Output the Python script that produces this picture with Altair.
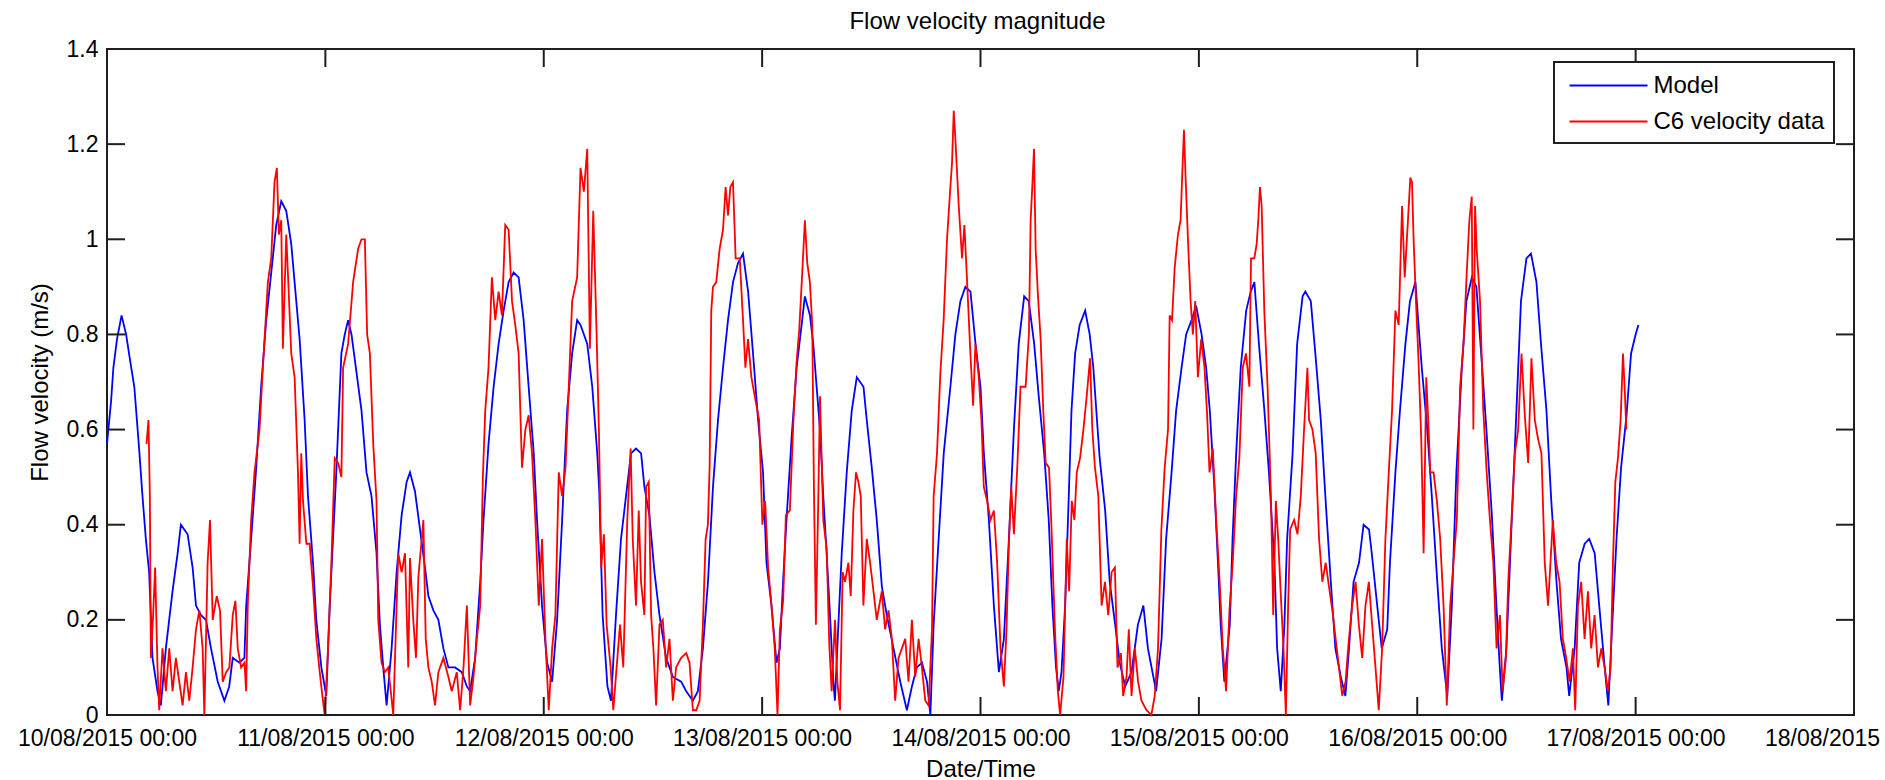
import altair as alt
import pandas as pd

# ---------------- data (hours after 10/08/2015 00:00, m/s) -------------
MODEL = [
    (0.0, 0.57), (0.45, 0.66), (0.7, 0.73), (1.1, 0.79), (1.6, 0.84), (2.1, 0.80), (2.5, 0.75),
    (3.0, 0.69), (3.53, 0.56), (3.9, 0.46), (4.27, 0.37), (4.63, 0.30), (5.0, 0.12), (5.55, 0.05),
    (5.92, 0.02), (6.47, 0.14), (7.2, 0.26), (7.76, 0.34), (8.12, 0.40), (8.86, 0.38), (9.41, 0.31),
    (9.78, 0.23), (10.33, 0.21), (10.88, 0.20), (11.43, 0.14), (12.17, 0.07), (12.9, 0.03),
    (13.43, 0.06), (13.82, 0.12), (14.55, 0.11), (15.1, 0.12), (15.3, 0.23), (15.84, 0.37),
    (16.4, 0.52), (16.94, 0.69), (17.5, 0.83), (18.05, 0.93), (18.6, 1.03), (19.15, 1.08),
    (19.7, 1.06), (20.25, 0.99), (20.8, 0.87), (21.17, 0.79), (21.72, 0.62), (22.09, 0.46),
    (22.64, 0.32), (23.0, 0.20), (23.56, 0.10), (24.1, 0.04), (24.48, 0.23), (25.2, 0.51),
    (25.76, 0.76), (26.13, 0.80), (26.5, 0.83), (26.87, 0.80), (27.42, 0.72), (27.97, 0.64),
    (28.52, 0.51), (29.07, 0.46), (29.62, 0.34), (29.99, 0.19), (30.36, 0.10), (30.73, 0.02),
    (31.28, 0.14), (31.83, 0.30), (32.38, 0.42), (32.93, 0.49), (33.3, 0.51), (33.85, 0.47),
    (34.4, 0.39), (34.95, 0.31), (35.32, 0.25), (35.87, 0.22), (36.42, 0.20), (36.97, 0.14),
    (37.52, 0.10), (38.26, 0.10), (38.99, 0.09), (39.55, 0.06), (39.91, 0.05), (40.46, 0.12),
    (41.02, 0.28), (41.38, 0.41), (41.93, 0.57), (42.49, 0.69), (43.04, 0.78), (43.59, 0.85),
    (44.14, 0.91), (44.69, 0.93), (45.24, 0.92), (45.79, 0.83), (46.34, 0.69), (46.9, 0.55),
    (47.26, 0.41), (47.81, 0.23), (48.37, 0.11), (48.92, 0.07), (49.47, 0.20), (50.02, 0.41),
    (50.57, 0.64), (51.12, 0.76), (51.67, 0.83), (52.04, 0.82), (52.78, 0.78), (53.33, 0.69),
    (53.88, 0.55), (54.1, 0.47), (54.47, 0.21), (55.0, 0.06), (55.39, 0.03), (55.94, 0.21),
    (56.49, 0.37), (57.04, 0.46), (57.59, 0.55), (58.14, 0.56), (58.7, 0.55), (59.06, 0.48),
    (59.61, 0.42), (60.17, 0.30), (60.72, 0.21), (61.45, 0.12), (62.19, 0.08), (63.1, 0.07),
    (63.66, 0.05), (64.39, 0.03), (64.94, 0.05), (65.49, 0.14), (66.05, 0.28), (66.6, 0.48),
    (67.15, 0.62), (67.7, 0.73), (68.25, 0.83), (68.8, 0.91), (69.35, 0.95), (69.9, 0.97),
    (70.46, 0.89), (71.0, 0.76), (71.56, 0.62), (72.1, 0.51), (72.48, 0.32), (73.03, 0.23),
    (73.58, 0.11), (73.95, 0.14), (74.3, 0.28), (74.68, 0.41), (75.23, 0.58), (75.79, 0.73),
    (76.34, 0.82), (76.7, 0.88), (77.26, 0.84), (77.62, 0.78), (77.99, 0.69), (78.36, 0.60),
    (78.72, 0.46), (79.09, 0.34), (79.46, 0.21), (79.83, 0.07), (80.0, 0.03), (80.38, 0.19),
    (80.75, 0.34), (81.3, 0.51), (81.85, 0.64), (82.4, 0.71), (83.14, 0.69), (83.5, 0.62),
    (84.05, 0.52), (84.6, 0.41), (85.16, 0.27), (85.7, 0.21), (86.44, 0.14), (87.18, 0.07),
    (87.91, 0.01), (88.46, 0.06), (89.0, 0.10), (89.57, 0.11), (90.12, 0.07), (90.49, 0.00),
    (90.85, 0.19), (91.4, 0.37), (91.96, 0.55), (92.69, 0.69), (93.24, 0.80), (93.79, 0.87),
    (94.34, 0.90), (94.9, 0.89), (95.45, 0.78), (96.0, 0.69), (96.37, 0.55), (96.92, 0.41),
    (97.47, 0.23), (98.02, 0.09), (98.57, 0.16), (99.12, 0.37), (99.67, 0.60), (100.2, 0.78),
    (100.8, 0.88), (101.3, 0.87), (101.9, 0.78), (102.4, 0.67), (103.0, 0.55), (103.5, 0.41),
    (103.9, 0.23), (104.3, 0.10), (104.6, 0.05), (104.9, 0.09), (105.3, 0.23), (105.7, 0.46),
    (106.0, 0.64), (106.4, 0.76), (106.9, 0.82), (107.5, 0.85), (108.0, 0.80), (108.4, 0.73),
    (108.8, 0.62), (109.1, 0.54), (109.7, 0.43), (110.2, 0.28), (110.8, 0.19), (111.3, 0.11),
    (111.9, 0.06), (112.6, 0.09), (113.3, 0.19), (113.9, 0.23), (114.4, 0.14), (115.0, 0.08),
    (115.3, 0.05), (115.9, 0.16), (116.4, 0.37), (117.0, 0.51), (117.5, 0.64), (118.1, 0.73),
    (118.6, 0.80), (119.2, 0.83), (119.7, 0.86), (120.3, 0.80), (120.8, 0.73), (121.2, 0.64),
    (121.7, 0.48), (122.1, 0.32), (122.4, 0.19), (122.8, 0.07), (123.4, 0.19), (123.7, 0.37),
    (124.1, 0.55), (124.6, 0.73), (125.2, 0.85), (125.7, 0.89), (126.1, 0.91), (126.6, 0.78),
    (127.2, 0.64), (127.7, 0.51), (128.3, 0.32), (128.6, 0.14), (129.0, 0.05), (129.4, 0.19),
    (129.7, 0.37), (130.3, 0.55), (130.8, 0.78), (131.4, 0.88), (131.7, 0.89), (132.3, 0.87),
    (132.8, 0.76), (133.4, 0.62), (133.9, 0.46), (134.5, 0.28), (135.0, 0.14), (135.6, 0.08),
    (136.1, 0.04), (136.5, 0.14), (137.0, 0.28), (137.6, 0.32), (138.1, 0.40), (138.7, 0.39),
    (139.0, 0.34), (139.6, 0.23), (140.1, 0.14), (140.7, 0.18), (141.0, 0.32), (141.6, 0.51),
    (142.1, 0.64), (142.7, 0.78), (143.2, 0.87), (143.8, 0.91), (144.1, 0.83), (144.5, 0.73),
    (145.1, 0.60), (145.6, 0.46), (146.2, 0.28), (146.7, 0.14), (147.3, 0.04), (147.8, 0.23),
    (148.3, 0.51), (148.9, 0.73), (149.4, 0.87), (150.0, 0.92), (150.5, 0.90), (151.1, 0.74),
    (151.6, 0.60), (152.2, 0.42), (152.7, 0.23), (153.1, 0.09), (153.3, 0.03), (153.8, 0.14),
    (154.3, 0.37), (154.9, 0.64), (155.4, 0.87), (156.0, 0.96), (156.5, 0.97), (157.1, 0.91),
    (157.6, 0.78), (158.2, 0.64), (158.7, 0.46), (159.3, 0.28), (159.8, 0.16), (160.4, 0.10),
    (160.7, 0.04), (161.3, 0.14), (161.8, 0.32), (162.4, 0.36), (162.9, 0.37), (163.5, 0.34),
    (164.0, 0.23), (164.6, 0.10), (165.0, 0.02), (165.3, 0.14), (165.9, 0.37), (166.4, 0.52),
    (167.0, 0.63), (167.5, 0.76), (168.0, 0.80), (168.3, 0.82),
]

C6_DATA = [
    (4.34, 0.57), (4.56, 0.62), (4.71, 0.46), (4.82, 0.12), (5.07, 0.21), (5.29, 0.31), (5.55, 0.10),
    (5.74, 0.01), (6.10, 0.14), (6.47, 0.05), (6.84, 0.14), (7.21, 0.05), (7.57, 0.12), (7.94, 0.07),
    (8.31, 0.02), (8.68, 0.09), (9.04, 0.03), (9.41, 0.10), (9.78, 0.18), (10.15, 0.22), (10.51, 0.14),
    (10.70, 0.00), (11.06, 0.32), (11.32, 0.41), (11.62, 0.20), (12.06, 0.25), (12.42, 0.22),
    (12.72, 0.07), (13.09, 0.09), (13.45, 0.10), (13.82, 0.21), (14.11, 0.24), (14.37, 0.14),
    (14.74, 0.10), (15.11, 0.11), (15.29, 0.05), (15.47, 0.23), (15.84, 0.41), (16.21, 0.51),
    (16.76, 0.60), (17.13, 0.73), (17.68, 0.91), (18.05, 0.96), (18.41, 1.12), (18.67, 1.15),
    (18.89, 1.01), (19.15, 1.04), (19.33, 0.77), (19.70, 1.01), (19.99, 0.88), (20.25, 0.76),
    (20.62, 0.71), (20.99, 0.51), (21.17, 0.36), (21.35, 0.55), (21.54, 0.45), (21.91, 0.36),
    (22.27, 0.36), (22.64, 0.27), (23.01, 0.16), (23.38, 0.09), (23.67, 0.04), (23.93, 0.00),
    (24.29, 0.14), (24.66, 0.32), (25.03, 0.54), (25.40, 0.53), (25.76, 0.50), (25.95, 0.73),
    (26.50, 0.78), (27.05, 0.91), (27.60, 0.98), (27.97, 1.00), (28.34, 1.00), (28.59, 0.80),
    (28.89, 0.76), (29.26, 0.57), (29.62, 0.45), (29.81, 0.20), (30.17, 0.11), (30.54, 0.09),
    (30.91, 0.10), (31.46, 0.00), (31.83, 0.23), (32.01, 0.34), (32.38, 0.30), (32.75, 0.34),
    (33.11, 0.10), (33.30, 0.33), (33.66, 0.20), (33.96, 0.12), (34.22, 0.29), (34.77, 0.41),
    (35.03, 0.16), (35.32, 0.10), (35.69, 0.07), (36.05, 0.02), (36.42, 0.09), (36.97, 0.12),
    (37.52, 0.08), (37.89, 0.05), (38.44, 0.09), (38.81, 0.01), (39.18, 0.10), (39.55, 0.23),
    (39.91, 0.02), (40.28, 0.08), (40.65, 0.16), (41.02, 0.23), (41.31, 0.50), (41.57, 0.64),
    (41.93, 0.73), (42.30, 0.92), (42.67, 0.83), (43.04, 0.89), (43.40, 0.84), (43.77, 1.03),
    (44.14, 1.02), (44.51, 0.87), (44.87, 0.82), (45.24, 0.76), (45.61, 0.52), (45.98, 0.60),
    (46.34, 0.63), (46.71, 0.55), (47.08, 0.41), (47.45, 0.23), (47.81, 0.37), (48.18, 0.16),
    (48.55, 0.01), (48.92, 0.14), (49.28, 0.21), (49.65, 0.51), (50.02, 0.46), (50.39, 0.52),
    (50.75, 0.69), (51.12, 0.87), (51.67, 0.92), (52.04, 1.15), (52.41, 1.10), (52.78, 1.19),
    (53.07, 0.77), (53.44, 1.06), (53.81, 0.80), (54.06, 0.60), (54.32, 0.31), (54.61, 0.38),
    (54.91, 0.19), (55.35, 0.10), (55.64, 0.01), (56.01, 0.10), (56.38, 0.19), (56.74, 0.10),
    (57.18, 0.41), (57.55, 0.56), (57.78, 0.37), (58.14, 0.23), (58.44, 0.43), (58.69, 0.28),
    (59.06, 0.21), (59.25, 0.48), (59.54, 0.49), (59.80, 0.21), (60.05, 0.14), (60.35, 0.02),
    (60.72, 0.19), (61.08, 0.20), (61.45, 0.10), (61.82, 0.16), (62.19, 0.03), (62.55, 0.10),
    (63.10, 0.12), (63.66, 0.13), (64.02, 0.11), (64.39, 0.01), (64.76, 0.01), (65.13, 0.03),
    (65.49, 0.19), (65.79, 0.37), (66.04, 0.40), (66.23, 0.52), (66.41, 0.85), (66.60, 0.90),
    (66.96, 0.91), (67.33, 0.98), (67.70, 1.02), (67.99, 1.11), (68.25, 1.05), (68.51, 1.11),
    (68.80, 1.12), (69.09, 0.96), (69.54, 0.96), (69.90, 0.83), (70.16, 0.73), (70.45, 0.79),
    (70.82, 0.71), (71.19, 0.67), (71.67, 0.62), (72.03, 0.40), (72.33, 0.45), (72.66, 0.31),
    (73.03, 0.23), (73.39, 0.14), (73.69, 0.00), (73.95, 0.18), (74.31, 0.24), (74.61, 0.42),
    (75.05, 0.43), (75.42, 0.61), (75.78, 0.74), (76.08, 0.81), (76.41, 0.93), (76.70, 1.04),
    (76.96, 0.95), (77.25, 0.91), (77.51, 0.82), (77.69, 0.48), (77.91, 0.19), (78.17, 0.45),
    (78.36, 0.67), (78.72, 0.41), (79.09, 0.35), (79.38, 0.15), (79.64, 0.05), (80.01, 0.20),
    (80.27, 0.07), (80.56, 0.01), (80.85, 0.30), (81.11, 0.28), (81.48, 0.32), (81.74, 0.25),
    (82.03, 0.43), (82.32, 0.51), (82.58, 0.49), (82.84, 0.46), (83.13, 0.23), (83.50, 0.37),
    (83.87, 0.32), (84.24, 0.26), (84.60, 0.20), (85.15, 0.26), (85.52, 0.18), (85.89, 0.22),
    (86.26, 0.16), (86.62, 0.03), (86.99, 0.12), (87.36, 0.14), (87.73, 0.16), (88.09, 0.07),
    (88.46, 0.20), (88.83, 0.08), (89.20, 0.16), (89.56, 0.10), (89.93, 0.03), (90.30, 0.02),
    (90.67, 0.18), (90.85, 0.46), (91.22, 0.55), (91.59, 0.72), (91.95, 0.83), (92.32, 1.00),
    (92.69, 1.11), (92.87, 1.16), (93.06, 1.27), (93.24, 1.21), (93.61, 1.07), (93.97, 0.96),
    (94.23, 1.03), (94.53, 0.91), (94.89, 0.76), (95.19, 0.65), (95.44, 0.78), (95.81, 0.71),
    (96.10, 0.62), (96.36, 0.48), (96.73, 0.45), (97.10, 0.41), (97.47, 0.43), (97.83, 0.32),
    (98.20, 0.14), (98.57, 0.06), (98.86, 0.18), (99.12, 0.36), (99.38, 0.48), (99.67, 0.38),
    (100.04, 0.52), (100.40, 0.69), (100.96, 0.69), (101.32, 0.80), (101.51, 1.04), (101.69, 1.11),
    (101.88, 1.19), (102.06, 0.98), (102.32, 0.88), (102.61, 0.79), (102.90, 0.64), (103.16, 0.53),
    (103.53, 0.52), (103.79, 0.40), (104.20, 0.17), (104.50, 0.05), (104.75, 0.00), (105.12, 0.08),
    (105.48, 0.37), (105.74, 0.26), (106.03, 0.45), (106.32, 0.41), (106.58, 0.51), (106.94, 0.54),
    (107.31, 0.60), (107.67, 0.67), (108.04, 0.75), (108.29, 0.60), (108.58, 0.52), (108.95, 0.46),
    (109.31, 0.23), (109.68, 0.28), (110.04, 0.21), (110.41, 0.30), (110.77, 0.31), (111.06, 0.10),
    (111.43, 0.13), (111.68, 0.04), (112.05, 0.08), (112.30, 0.18), (112.60, 0.04), (112.96, 0.14),
    (113.32, 0.07), (113.69, 0.03), (114.24, 0.01), (114.78, 0.00), (115.15, 0.04), (115.51, 0.14),
    (115.88, 0.39), (116.24, 0.52), (116.61, 0.60), (116.79, 0.84), (117.05, 0.83), (117.34, 0.94),
    (117.70, 1.01), (117.99, 1.04), (118.18, 1.14), (118.36, 1.23), (118.54, 1.13), (118.80, 1.00),
    (119.09, 0.87), (119.34, 0.80), (119.60, 0.87), (119.89, 0.71), (120.26, 0.79), (120.62, 0.73),
    (120.91, 0.63), (121.17, 0.51), (121.53, 0.56), (121.90, 0.41), (122.26, 0.29), (122.63, 0.14),
    (122.99, 0.05), (123.36, 0.22), (123.72, 0.32), (124.09, 0.46), (124.45, 0.54), (124.82, 0.73),
    (125.18, 0.76), (125.55, 0.69), (125.73, 0.96), (126.09, 0.96), (126.35, 0.99), (126.53, 1.04),
    (126.71, 1.11), (126.90, 1.07), (127.19, 0.85), (127.55, 0.69), (127.92, 0.46), (128.17, 0.21),
    (128.46, 0.45), (128.72, 0.37), (129.01, 0.25), (129.30, 0.14), (129.56, 0.00), (129.81, 0.23),
    (130.03, 0.39), (130.47, 0.41), (130.84, 0.38), (131.20, 0.46), (131.56, 0.60), (131.93, 0.73),
    (132.11, 0.62), (132.48, 0.60), (132.84, 0.55), (133.21, 0.37), (133.57, 0.28), (133.94, 0.32),
    (134.30, 0.27), (134.67, 0.22), (135.03, 0.16), (135.40, 0.10), (135.76, 0.04), (136.12, 0.07),
    (136.49, 0.16), (136.85, 0.23), (137.22, 0.28), (137.58, 0.19), (137.95, 0.12), (138.31, 0.23),
    (138.68, 0.28), (139.04, 0.19), (139.41, 0.10), (139.77, 0.01), (140.14, 0.14), (140.50, 0.37),
    (140.87, 0.51), (141.23, 0.64), (141.60, 0.85), (141.96, 0.82), (142.33, 1.07), (142.62, 0.92),
    (142.98, 1.04), (143.24, 1.13), (143.42, 1.12), (143.60, 1.00), (143.86, 0.87), (144.15, 0.74),
    (144.44, 0.58), (144.70, 0.34), (144.99, 0.71), (145.25, 0.60), (145.43, 0.51), (145.79, 0.51),
    (146.16, 0.45), (146.52, 0.37), (146.89, 0.23), (147.25, 0.02), (147.62, 0.23), (147.98, 0.32),
    (148.35, 0.41), (148.71, 0.69), (149.08, 0.78), (149.44, 0.93), (149.73, 1.04), (149.99, 1.09),
    (150.17, 0.60), (150.35, 1.07), (150.53, 0.98), (150.90, 0.87), (151.26, 0.64), (151.63, 0.51),
    (151.99, 0.41), (152.36, 0.32), (152.72, 0.14), (153.09, 0.21), (153.38, 0.05), (153.74, 0.12),
    (154.00, 0.28), (154.36, 0.41), (154.73, 0.55), (155.09, 0.60), (155.46, 0.76), (155.82, 0.63),
    (156.19, 0.53), (156.55, 0.75), (156.92, 0.62), (157.28, 0.58), (157.65, 0.55), (158.01, 0.32),
    (158.38, 0.23), (158.90, 0.41), (159.27, 0.32), (159.64, 0.28), (160.00, 0.16), (160.37, 0.12),
    (160.74, 0.07), (161.11, 0.14), (161.36, 0.01), (161.66, 0.23), (162.02, 0.28), (162.39, 0.16),
    (162.76, 0.26), (163.12, 0.14), (163.49, 0.21), (163.86, 0.10), (164.23, 0.14), (164.59, 0.10),
    (164.96, 0.05), (165.25, 0.10), (165.51, 0.32), (165.77, 0.49), (166.06, 0.54), (166.35, 0.62),
    (166.61, 0.76), (166.79, 0.69), (166.98, 0.60),
]

SERIES = ["Model", "C6 velocity data"]
SERIES_COLORS = ["#0000ff", "#ff0000"]
X_TICK_DAYS = [10, 11, 12, 13, 14, 15, 16, 17, 18]
Y_TICKS = [0, 0.2, 0.4, 0.6, 0.8, 1, 1.2, 1.4]

TITLE = "Flow velocity magnitude"
X_TITLE = "Date/Time"
Y_TITLE = "Flow velocity (m/s)"

# ---------------- tables -----------------------------------------------------------------------
BASE = pd.Timestamp("2015-08-10T00:00:00")


def iso(hours):
    return (BASE + pd.Timedelta(hours=hours)).strftime("%Y-%m-%dT%H:%M:%SZ")


def epoch_ms(day):
    return int(pd.Timestamp("2015-08-%02d" % day, tz="UTC").value // 10**6)


model_df = pd.DataFrame({"t": [iso(h) for h, _ in MODEL], "v": [v for _, v in MODEL],
                         "series": SERIES[0]})
data_df = pd.DataFrame({"t": [iso(h) for h, _ in C6_DATA], "v": [v for _, v in C6_DATA],
                        "series": SERIES[1]})
xtick_df = pd.DataFrame({"t": ["2015-08-%02dT00:00:00Z" % d for d in X_TICK_DAYS]})
ytick_df = pd.DataFrame({"v": Y_TICKS})
title_df = pd.DataFrame({"label": [TITLE]})

W, H = 1747, 666
FONT = "Liberation Sans"
INK = "#1e1e1e"
TICK = 18

x_scale = alt.Scale(type="utc", domain=[epoch_ms(X_TICK_DAYS[0]), epoch_ms(X_TICK_DAYS[-1])])
y_scale = alt.Scale(domain=[0, 1.4], nice=False, zero=True)

x_axis = alt.Axis(values=[epoch_ms(d) for d in X_TICK_DAYS],
                  format="%d/%m/%Y %H:%M", labelFontSize=23, labelPadding=12,
                  labelFlush=False, labelOverlap=False, ticks=False, domain=False, grid=False,
                  title=X_TITLE, titleFontSize=24, titleFontWeight="normal",
                  titleBaseline="alphabetic", titleY=61)
y_axis = alt.Axis(values=Y_TICKS, format="~g", labelFontSize=23, labelPadding=9,
                  ticks=False, domain=False, grid=False,
                  title=Y_TITLE, titleFontSize=24, titleFontWeight="normal",
                  titleAngle=270, titleX=-60, titleY=H / 2, titleAlign="center",
                  titleBaseline="alphabetic")

color = alt.Color("series:N",
                  scale=alt.Scale(domain=SERIES, range=SERIES_COLORS),
                  legend=alt.Legend(title=None, orient="none", legendX=1447, legendY=13,
                                    symbolType="M-3,0H3", symbolSize=676, symbolStrokeWidth=2,
                                    symbolOffset=31, labelOffset=31, labelFontSize=24,
                                    labelFont=FONT, labelColor="black", labelLimit=400,
                                    padding=9.5, rowPadding=10, strokeColor=INK,
                                    fillColor="white", cornerRadius=0))

X = alt.X("t:T", scale=x_scale, axis=x_axis)
Y = alt.Y("v:Q", scale=y_scale, axis=y_axis)

model_line = alt.Chart(model_df).mark_line(strokeWidth=1.8).encode(x=X, y=Y, color=color)
data_line = alt.Chart(data_df).mark_line(strokeWidth=1.8).encode(x=X, y=Y, color=color)

tick_style = dict(color=INK, strokeWidth=2)
xt_bottom = alt.Chart(xtick_df).mark_rule(**tick_style).encode(
    x=X, y=alt.value(H), y2=alt.value(H - TICK))
xt_top = alt.Chart(xtick_df).mark_rule(**tick_style).encode(
    x=X, y=alt.value(0), y2=alt.value(TICK))
yt_left = alt.Chart(ytick_df).mark_rule(**tick_style).encode(
    y=Y, x=alt.value(0), x2=alt.value(TICK))
yt_right = alt.Chart(ytick_df).mark_rule(**tick_style).encode(
    y=Y, x=alt.value(W), x2=alt.value(W - TICK))

# chart title, written as a text mark centred above the axes box
title_text = alt.Chart(title_df).mark_text(
    font=FONT, fontSize=24, color="black", align="center", baseline="alphabetic"
).encode(text="label:N", x=alt.value(W / 2 - 3), y=alt.value(-20))

chart = alt.layer(model_line, data_line, xt_bottom, xt_top, yt_left, yt_right,
                  title_text).properties(
    width=W, height=H,
    autosize=alt.AutoSizeParams(type="none"),
    padding={"left": 107, "top": 49, "right": 31, "bottom": 65},
    background="white",
).configure_view(
    stroke=INK, strokeWidth=2
).configure_axis(
    labelFont=FONT, titleFont=FONT, labelColor="black", titleColor="black"
).configure_legend(
    strokeWidth=2
)

chart.save("out.html", embed_options={"renderer": "svg", "actions": False})
